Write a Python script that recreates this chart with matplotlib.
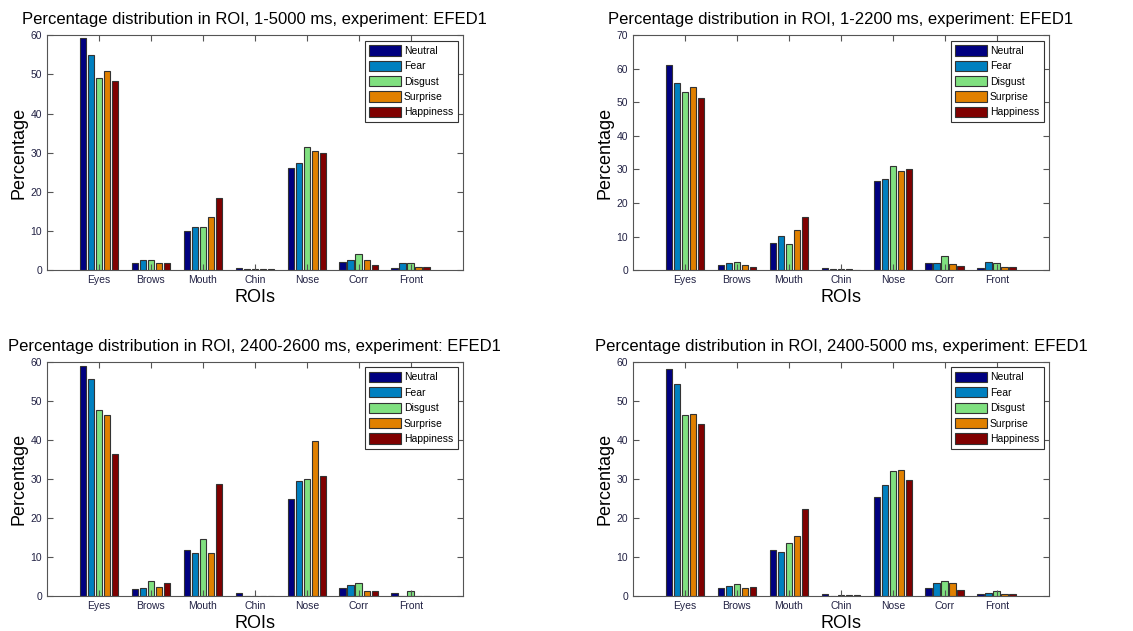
import numpy as np
import matplotlib
matplotlib.use("Agg")
import matplotlib.pyplot as plt

plt.rcParams['font.family'] = ['Liberation Sans', 'DejaVu Sans']

rois = ['Eyes', 'Brows', 'Mouth', 'Chin', 'Nose', 'Corr', 'Front']
emotions = ['Neutral', 'Fear', 'Disgust', 'Surprise', 'Happiness']
colors = ['#000080', '#0080c0', '#80e080', '#e08000', '#800000']

# values per emotion, one list per ROI order above
tl_vals = {
    'Neutral':   [59.4, 1.7, 10.0, 0.6, 26.0, 2.0, 0.6],
    'Fear':      [55.0, 2.5, 10.9, 0.2, 27.3, 2.7, 1.9],
    'Disgust':   [49.2, 2.5, 10.9, 0.4, 31.4, 4.0, 1.9],
    'Surprise':  [51.0, 1.7, 13.6, 0.4, 30.5, 2.7, 0.9],
    'Happiness': [48.2, 1.7, 18.3, 0.2, 29.8, 1.3, 0.9],
}
tr_vals = {
    'Neutral':   [61.3, 1.4, 8.0, 0.7, 26.6, 2.0, 0.7],
    'Fear':      [55.8, 2.2, 10.1, 0.2, 27.3, 2.2, 2.4],
    'Disgust':   [53.0, 2.5, 7.7, 0.2, 30.9, 4.2, 2.2],
    'Surprise':  [54.5, 1.4, 11.9, 0.2, 29.6, 1.7, 0.9],
    'Happiness': [51.3, 1.0, 15.9, 0.0, 30.0, 1.3, 0.9],
}
bl_vals = {
    'Neutral':   [59.0, 1.7, 11.8, 0.8, 24.8, 2.1, 0.8],
    'Fear':      [55.5, 2.0, 10.9, 0.0, 29.5, 2.7, 0.0],
    'Disgust':   [47.6, 3.8, 14.5, 0.0, 30.0, 3.2, 1.3],
    'Surprise':  [46.4, 2.2, 10.9, 0.0, 39.6, 1.4, 0.0],
    'Happiness': [36.3, 3.2, 28.8, 0.0, 30.8, 1.3, 0.0],
}
br_vals = {
    'Neutral':   [58.3, 2.0, 11.8, 0.6, 25.4, 2.1, 0.6],
    'Fear':      [54.4, 2.6, 11.3, 0.0, 28.5, 3.2, 0.8],
    'Disgust':   [46.4, 3.0, 13.7, 0.3, 32.1, 3.8, 1.4],
    'Surprise':  [46.7, 2.0, 15.3, 0.3, 32.3, 3.4, 0.6],
    'Happiness': [44.2, 2.4, 22.3, 0.3, 29.7, 1.5, 0.6],
}

panels = [
    ('1-5000', tl_vals, 60, [0.0415, 0.572, 0.367, 0.372]),
    ('1-2200', tr_vals, 70, [0.5587, 0.572, 0.367, 0.372]),
    ('2400-2600', bl_vals, 60, [0.0415, 0.0555, 0.367, 0.371]),
    ('2400-5000', br_vals, 60, [0.5587, 0.0555, 0.367, 0.371]),
]

fig = plt.figure(figsize=(11.33, 6.31), dpi=100)
x = np.arange(1, len(rois) + 1)
step = 0.154
width = 0.13

for span, vals, ymax, pos in panels:
    ax = fig.add_axes(pos)
    for i, emo in enumerate(emotions):
        ax.bar(x + (i - 2) * step, vals[emo], width=width, color=colors[i],
               edgecolor='#333333', linewidth=0.8, label=emo)
    ax.set_xlim(0, 8)
    ax.set_ylim(0, ymax)
    ax.set_xticks(x)
    ax.set_xticklabels(rois)
    ax.set_yticks(np.arange(0, ymax + 1, 10))
    ax.tick_params(direction='in', top=True, right=True, length=4,
                   labelsize=7.5, labelcolor='#222244', color='#555555')
    for s in ax.spines.values():
        s.set_color('#555555')
    ax.set_xlabel('ROIs', fontsize=13, labelpad=3)
    ax.set_ylabel('Percentage', fontsize=13, labelpad=2)
    ax.set_title('Percentage distribution in ROI, %s ms, experiment: EFED1' % span,
                 fontsize=12, pad=8)
    leg = ax.legend(loc='upper right', fontsize=7.5, handlelength=3.0,
                    handleheight=1.15, handletextpad=0.3, labelspacing=0.45,
                    borderpad=0.45, fancybox=False, framealpha=1,
                    edgecolor='#333333', borderaxespad=0.5)
    leg.get_frame().set_linewidth(0.8)

fig.savefig('out.png', dpi=100)
